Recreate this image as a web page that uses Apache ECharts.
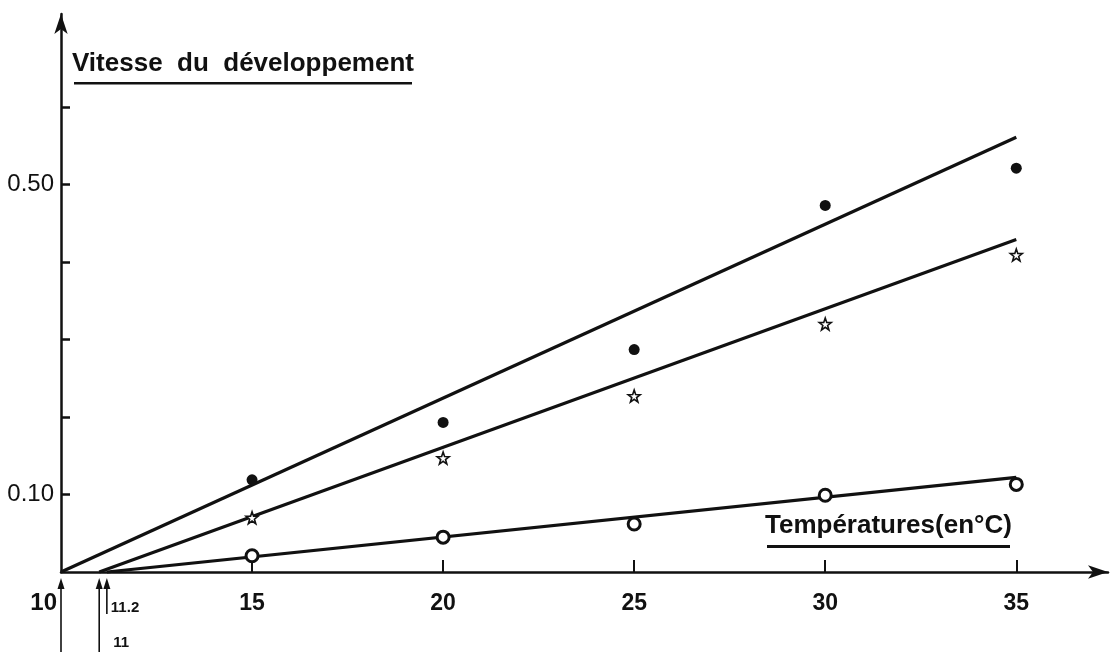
<!DOCTYPE html>
<html>
<head>
<meta charset="utf-8">
<title>Vitesse du développement</title>
<script src="https://cdn.jsdelivr.net/npm/echarts@6/dist/echarts.min.js"></script>
<style>
  html, body { margin: 0; padding: 0; background: #fff; }
  #chart { width: 1112px; height: 652px; }
</style>
</head>
<body>
<div id="chart"></div>
<script>
// Temperatures (°C) at which development rate was measured
const temps = [15, 20, 25, 30, 35];

// Measured development rates for the three series
const filledDots = [0.119, 0.193, 0.287, 0.473, 0.521];
const starDots   = [0.070, 0.147, 0.227, 0.320, 0.409];
const openDots   = [0.021, 0.045, 0.062, 0.099, 0.113];

// Regression lines: thermal threshold (x-intercept) and value at 35 °C
const thresholds = [10, 11, 11.2];
const fitEndTemp = 35;
const fitEnds = [0.561, 0.429, 0.122];

// Axis ticks and labels
const xTickLabels = [15, 20, 25, 30, 35];
const yTicks = [0.1, 0.2, 0.3, 0.4, 0.5, 0.6];
const yTickLabels = [0.1, 0.5];

const INK = '#111';
const FONT = 'Liberation Sans';

const chart = echarts.init(document.getElementById('chart'), null, { renderer: 'canvas' });

const starPath = 'path://M0,-10 L2.35,-3.24 L9.51,-3.09 L3.8,1.24 L5.88,8.09 L0,4 L-5.88,8.09 L-3.8,1.24 L-9.51,-3.09 L-2.35,-3.24 Z';

function fitLine(i) {
  return {
    type: 'line',
    data: [[thresholds[i], 0], [fitEndTemp, fitEnds[i]]],
    symbol: 'none',
    clip: false,
    silent: true,
    z: 2,
    lineStyle: { color: INK, width: 3.2 }
  };
}

function points(values, extra) {
  return Object.assign({
    type: 'scatter',
    data: temps.map((t, i) => [t, values[i]]),
    z: 3,
    silent: true
  }, extra);
}

// Threshold arrows under the x axis, with their labels
const arrowTail = ['bottom', 'bottom', 42];
const arrowLabel = [
  { dx: -4, dy: 31, anchor: 'right', size: 24 },
  { dx: 14, dy: 71, anchor: 'left', size: 15 },
  { dx: 4,  dy: 36, anchor: 'left', size: 15 }
];

const thresholdSeries = {
  type: 'custom',
  coordinateSystem: 'cartesian2d',
  clip: false,
  silent: true,
  z: 4,
  data: thresholds.map((t, i) => [t, i]),
  renderItem: function (params, api) {
    const t = api.value(0);
    const i = api.value(1);
    const p = api.coord([t, 0]);
    const top = p[1] + 6;
    const tail = arrowTail[i] === 'bottom' ? api.getHeight() : p[1] + arrowTail[i];
    const lab = arrowLabel[i];
    return {
      type: 'group',
      children: [
        {
          type: 'line',
          shape: { x1: p[0], y1: top + 6, x2: p[0], y2: tail },
          style: { stroke: INK, lineWidth: 1.6 }
        },
        {
          type: 'polygon',
          shape: { points: [[p[0], top], [p[0] - 3.5, top + 11], [p[0] + 3.5, top + 11]] },
          style: { fill: INK }
        },
        {
          type: 'text',
          x: p[0] + lab.dx,
          y: p[1] + lab.dy,
          style: {
            text: String(t),
            fill: INK,
            font: 'bold ' + lab.size + 'px "' + FONT + '"',
            align: lab.anchor,
            verticalAlign: 'middle'
          }
        }
      ]
    };
  }
};

const option = {
  backgroundColor: '#fff',
  animation: false,
  grid: { left: 61, right: 4, top: 14, bottom: 80, containLabel: false },
  xAxis: {
    type: 'value',
    min: 10,
    max: 37.4,
    interval: 5,
    splitLine: { show: false },
    axisLine: {
      show: true,
      symbol: ['none', 'arrow'],
      symbolSize: [10, 20],
      lineStyle: { color: INK, width: 2.5 }
    },
    axisTick: {
      show: true,
      inside: true,
      length: 12,
      customValues: xTickLabels,
      lineStyle: { color: INK, width: 2 }
    },
    axisLabel: {
      customValues: xTickLabels,
      margin: 20,
      color: INK,
      fontFamily: FONT,
      fontWeight: 'bold',
      fontSize: 23
    }
  },
  yAxis: {
    type: 'value',
    min: 0,
    max: 0.72,
    interval: 0.1,
    splitLine: { show: false },
    axisLine: {
      show: true,
      symbol: ['none', 'arrow'],
      symbolSize: [10, 20],
      lineStyle: { color: INK, width: 2.5 }
    },
    axisTick: {
      show: true,
      inside: true,
      length: 9,
      customValues: yTicks,
      lineStyle: { color: INK, width: 2.5 }
    },
    axisLabel: {
      customValues: yTickLabels,
      margin: 7,
      color: INK,
      fontFamily: FONT,
      fontWeight: 500,
      fontSize: 24,
      formatter: v => v.toFixed(2)
    }
  },
  graphic: [
    {
      type: 'text',
      left: 72,
      top: 51,
      style: {
        text: 'Vitesse  du  développement',
        fill: INK,
        font: 'bold 26px "' + FONT + '"'
      }
    },
    {
      type: 'rect',
      shape: { x: 74, y: 82, width: 338, height: 2.5 },
      style: { fill: INK }
    },
    {
      type: 'text',
      left: 765,
      top: 513,
      style: {
        text: 'Températures(en°C)',
        fill: INK,
        font: 'bold 26px "' + FONT + '"'
      }
    },
    {
      type: 'rect',
      shape: { x: 767, y: 545, width: 243, height: 3 },
      style: { fill: INK }
    }
  ],
  series: [
    fitLine(0),
    fitLine(1),
    fitLine(2),
    points(filledDots, {
      symbol: 'circle',
      symbolSize: 11,
      itemStyle: { color: INK, opacity: 1 }
    }),
    points(starDots, {
      symbol: starPath,
      symbolSize: 12,
      itemStyle: { color: '#fff', borderColor: INK, borderWidth: 1.6, opacity: 1 }
    }),
    points(openDots, {
      symbol: 'circle',
      symbolSize: 12,
      itemStyle: { color: '#fff', borderColor: INK, borderWidth: 3, opacity: 1 }
    }),
    thresholdSeries
  ]
};

chart.setOption(option);
</script>
</body>
</html>
